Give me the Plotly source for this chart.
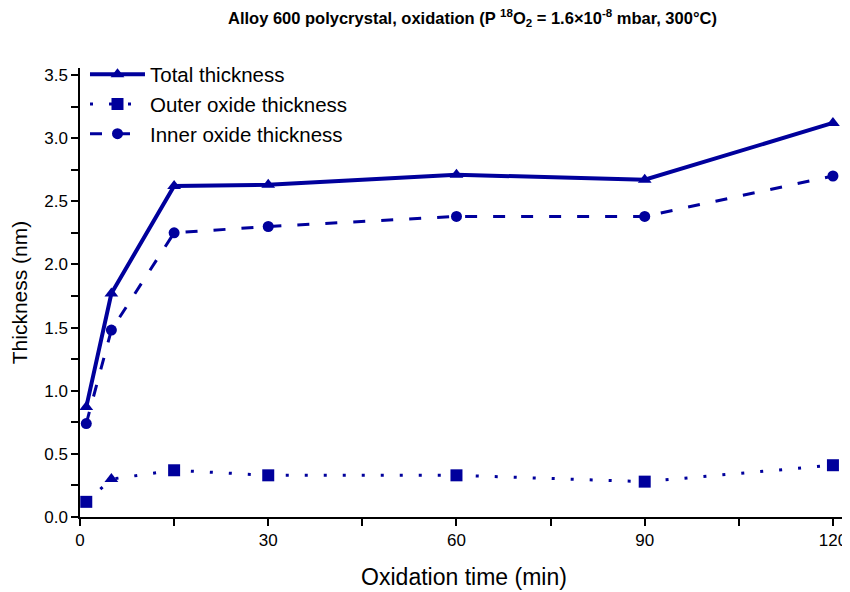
import plotly.graph_objects as go

time_min = [1, 5, 15, 30, 60, 90, 120]
total_thickness = [0.87, 1.77, 2.62, 2.63, 2.71, 2.67, 3.12]
outer_thickness = [0.12, 0.30, 0.37, 0.33, 0.33, 0.28, 0.41]
outer_symbols = ["square", "triangle-up", "square", "square", "square", "square", "square"]
inner_thickness = [0.74, 1.48, 2.25, 2.30, 2.38, 2.38, 2.70]

x_ticks = [0, 30, 60, 90, 120]
y_ticks = [0.0, 0.5, 1.0, 1.5, 2.0, 2.5, 3.0, 3.5]

blue = "rgb(0,0,156)"
font = "Liberation Sans, Arial"

fig = go.Figure()
fig.add_trace(go.Scatter(
    x=time_min, y=total_thickness, name="Total thickness", mode="lines+markers",
    line=dict(color=blue, width=4), marker=dict(symbol="triangle-up", size=12, color=blue)))
fig.add_trace(go.Scatter(
    x=time_min, y=outer_thickness, name="Outer oxide thickness", mode="lines+markers",
    line=dict(color=blue, width=3, dash="3px,16px"),
    marker=dict(symbol=outer_symbols, size=12, color=blue)))
fig.add_trace(go.Scatter(
    x=time_min, y=inner_thickness, name="Inner oxide thickness", mode="lines+markers",
    line=dict(color=blue, width=3, dash="12px,16px"),
    marker=dict(symbol="circle", size=11, color=blue)))

fig.update_layout(
    width=842, height=584,
    margin=dict(l=72, r=2, t=60, b=75),
    paper_bgcolor="white", plot_bgcolor="white",
    title=dict(
        text="<b>Alloy 600 polycrystal, oxidation (P <sup>18</sup>O<sub>2</sub> = 1.6×10<sup>-8</sup> mbar, 300°C)</b>",
        x=0.511, xanchor="center", xref="paper", y=0.983, yanchor="middle", yref="container",
        automargin=False,
        font=dict(family=font, size=16.5, color="black")),
    showlegend=True,
    legend=dict(x=0.0065, y=1.03, xanchor="left", yanchor="top",
                bgcolor="rgba(0,0,0,0)", font=dict(family=font, size=20.5, color="black"),
                itemwidth=55, tracegroupgap=0),
    xaxis=dict(
        range=[0, 122.4], tickvals=x_ticks, ticks="outside", ticklen=7, tickwidth=1.5,
        tickcolor="black", showline=True, linecolor="black", linewidth=1.5,
        showgrid=False, zeroline=False, automargin=False,
        minor=dict(dtick=15, tick0=0, ticks="outside", ticklen=7, tickcolor="black", tickwidth=1.5),
        tickfont=dict(family=font, size=17, color="black"),
        title=dict(text="Oxidation time (min)", font=dict(family=font, size=23, color="black"), standoff=20)),
    yaxis=dict(
        range=[0, 3.555], tickvals=y_ticks, tickformat=".1f", ticks="outside", ticklen=7, tickwidth=1.5,
        tickcolor="black", showline=True, linecolor="black", linewidth=1.5,
        showgrid=False, zeroline=False, automargin=False,
        minor=dict(dtick=0.25, tick0=0, ticks="outside", ticklen=7, tickcolor="black", tickwidth=1.5),
        tickfont=dict(family=font, size=17, color="black"),
        title=dict(text="Thickness (nm)", font=dict(family=font, size=21, color="black"), standoff=12)),
)

fig.write_html("out.html")
